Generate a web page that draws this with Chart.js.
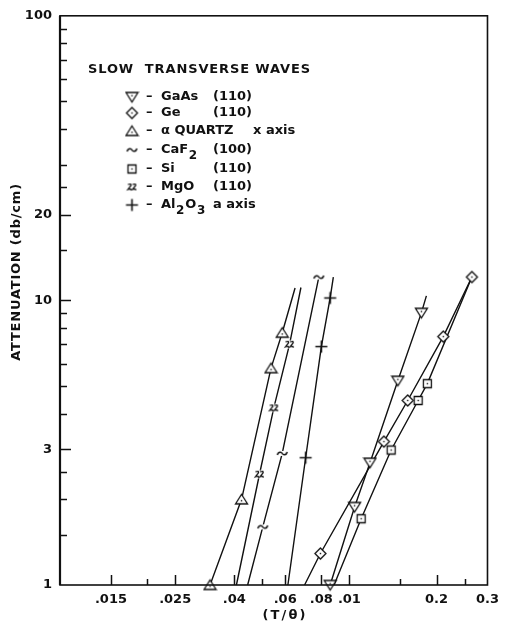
<!DOCTYPE html>
<html>
<head>
<meta charset="utf-8">
<script src="https://cdn.jsdelivr.net/npm/chart.js@4.4.0/dist/chart.umd.min.js"></script>
<style>
  html, body { margin: 0; padding: 0; background: #fff; }
</style>
</head>
<body>
<canvas id="chart" width="506" height="627"></canvas>
<script>
// 読み取った値 (T/θ, ATTENUATION db/cm)
// measured: 1 = plotted point, 0 = end of the drawn curve only
const GAAS_X = [0.0858, 0.1042, 0.1178, 0.147, 0.1773, 0.1845];
const GAAS_Y = [1.0, 1.88, 2.69, 5.22, 9.04, 10.37];
const GAAS_M = [1, 1, 1, 1, 1, 0];

const GE_X = [0.070, 0.0794, 0.1316, 0.159, 0.211, 0.265];
const GE_Y = [1.0, 1.29, 3.19, 4.45, 7.46, 12.08];
const GE_M = [0, 1, 1, 1, 1, 1];

const QUARTZ_X = [0.0330, 0.0424, 0.0536, 0.0586, 0.0649];
const QUARTZ_Y = [1.0, 2.0, 5.78, 7.7, 11.06];
const QUARTZ_M = [1, 1, 1, 1, 0];

const CAF2_X = [0.0445, 0.0502, 0.0586, 0.0784];
const CAF2_Y = [1.0, 1.6, 2.9, 12.08];
const CAF2_M = [0, 1, 1, 1];

const SI_X = [0.0885, 0.1098, 0.1394, 0.1728, 0.1859, 0.265];
const SI_Y = [1.0, 1.71, 2.98, 4.45, 5.10, 12.08];
const SI_M = [0, 1, 1, 1, 1, 0];

const MGO_X = [0.0407, 0.0489, 0.0548, 0.0621, 0.068];
const MGO_Y = [1.0, 2.45, 4.19, 7.01, 11.1];
const MGO_M = [0, 1, 1, 1, 0];

const AL2O3_X = [0.0613, 0.0706, 0.080, 0.0858, 0.088];
const AL2O3_Y = [1.0, 2.8, 6.88, 10.2, 12.08];
const AL2O3_M = [0, 1, 1, 1, 0];

// 凡例
const LEGEND_TITLE = 'SLOW  TRANSVERSE WAVES';
const LEGEND_NAMES = ['GaAs', 'Ge', 'α QUARTZ', 'CaF_2', 'Si', 'MgO', 'Al_2O_3'];
const LEGEND_NOTES = ['(110)', '(110)', 'x axis', '(100)', '(110)', '(110)', 'a axis'];

// 軸
const X_LABEL_VALUES = [0.015, 0.025, 0.04, 0.06, 0.08, 0.1, 0.2, 0.3];
const X_LABEL_TEXT = ['.015', '.025', '.04', '.06', '.08', '.01', '0.2', '0.3'];
const X_MINOR = [0.02, 0.05, 0.15, 0.25];
const Y_LABEL_VALUES = [1, 3, 10, 20, 100];
const Y_LABEL_TEXT = ['1', '3', '10', '20', '100'];
const Y_MINOR = [1.5, 2, 2.5, 4, 5, 6, 7, 8, 9, 15, 25, 30, 40, 50, 60, 70, 80, 90];
const X_TITLE = '(T/θ)';
const Y_TITLE = 'ATTENUATION (db/cm)';

const INK = '#111';
const FONT = '"DejaVu Sans", "Liberation Sans", sans-serif';

// マーカー画像
function makeMarker(kind) {
    const c = document.createElement('canvas');
    c.width = 15; c.height = 15;
    const g = c.getContext('2d');
    g.strokeStyle = INK; g.fillStyle = '#fff'; g.lineWidth = 1.3;
    const dot = (x, y) => { g.fillStyle = INK; g.fillRect(x - 0.7, y - 0.7, 1.4, 1.4); };
    g.beginPath();
    if (kind === 'down') {
        g.moveTo(1.5, 3); g.lineTo(13.5, 3); g.lineTo(7.5, 12.5); g.closePath();
        g.fill(); g.stroke(); dot(7.5, 6.2);
    } else if (kind === 'up') {
        g.moveTo(7.5, 2.5); g.lineTo(13.5, 12); g.lineTo(1.5, 12); g.closePath();
        g.fill(); g.stroke(); dot(7.5, 8.8);
    } else if (kind === 'diamond') {
        g.moveTo(7.5, 2); g.lineTo(13, 7.5); g.lineTo(7.5, 13); g.lineTo(2, 7.5); g.closePath();
        g.fill(); g.stroke(); dot(7.5, 7.5);
    } else if (kind === 'square') {
        g.rect(3.5, 3.5, 8, 8);
        g.fill(); g.stroke(); dot(7.5, 7.5);
    } else if (kind === 'plus') {
        g.lineWidth = 1.6;
        g.moveTo(1.5, 7.5); g.lineTo(13.5, 7.5);
        g.moveTo(7.5, 1.5); g.lineTo(7.5, 13.5);
        g.stroke();
    } else if (kind === 'tilde') {
        g.fillRect(3, 5, 9, 5);
        g.lineWidth = 1.5;
        g.moveTo(2.5, 9);
        g.bezierCurveTo(3.5, 5.5, 6.5, 5.5, 7.5, 7.5);
        g.bezierCurveTo(8.5, 9.5, 11.5, 9.5, 12.5, 6);
        g.stroke();
    } else if (kind === 'wave2') {
        g.fillRect(3, 3.5, 9, 8);
        g.lineWidth = 1.3;
        [5.2, 9.8].forEach(cx => {
            g.moveTo(cx - 1.8, 5);
            g.quadraticCurveTo(cx + 2.2, 3.8, cx + 1.2, 6.2);
            g.lineTo(cx - 1.6, 9.8);
            g.quadraticCurveTo(cx + 0.5, 9, cx + 1.9, 10.5);
        });
        g.stroke();
    }
    return c;
}

const MARKERS = {
    down: makeMarker('down'), up: makeMarker('up'), diamond: makeMarker('diamond'),
    square: makeMarker('square'), plus: makeMarker('plus'), tilde: makeMarker('tilde'),
    wave2: makeMarker('wave2')
};

const SERIES = [
    { xs: GAAS_X, ys: GAAS_Y, ms: GAAS_M, marker: 'down' },
    { xs: GE_X, ys: GE_Y, ms: GE_M, marker: 'diamond' },
    { xs: QUARTZ_X, ys: QUARTZ_Y, ms: QUARTZ_M, marker: 'up' },
    { xs: CAF2_X, ys: CAF2_Y, ms: CAF2_M, marker: 'tilde' },
    { xs: SI_X, ys: SI_Y, ms: SI_M, marker: 'square' },
    { xs: MGO_X, ys: MGO_Y, ms: MGO_M, marker: 'wave2' },
    { xs: AL2O3_X, ys: AL2O3_Y, ms: AL2O3_M, marker: 'plus' }
];

const datasets = SERIES.map((s, i) => ({
    label: LEGEND_NAMES[i].replace(/_/g, ''),
    data: s.xs.map((x, j) => ({ x: x, y: s.ys[j] })),
    showLine: true,
    borderColor: INK,
    borderWidth: 1.4,
    pointStyle: MARKERS[s.marker],
    pointRadius: s.ms.map(m => m ? 6 : 0),
    pointHoverRadius: s.ms.map(m => m ? 6 : 0),
    clip: false,
    tension: 0
}));

// 文字間隔を合わせて描く
function fitText(ctx, text, x, y, width) {
    ctx.letterSpacing = '0px';
    const w = ctx.measureText(text).width;
    const ls = text.length > 1 ? (width - w) / (text.length - 1) : 0;
    ctx.letterSpacing = ls.toFixed(2) + 'px';
    ctx.fillText(text, x, y);
    ctx.letterSpacing = '0px';
}

function drawRich(ctx, str, x, y) {
    str.split(/(_\d)/).filter(Boolean).forEach(p => {
        if (p[0] === '_') {
            ctx.font = 'bold 12px ' + FONT;
            ctx.fillText(p.slice(1), x + 0.5, y + 6);
            x += ctx.measureText(p.slice(1)).width + 1.5;
            ctx.font = 'bold 13px ' + FONT;
        } else {
            ctx.fillText(p, x, y);
            x += ctx.measureText(p).width;
        }
    });
}

const framePlugin = {
    id: 'frame',
    afterDatasetsDraw(chart) {
        const ctx = chart.ctx;
        const a = chart.chartArea;
        const xs = chart.scales.x, ys = chart.scales.y;
        ctx.save();
        ctx.strokeStyle = INK;
        ctx.lineWidth = 1.6;
        ctx.strokeRect(a.left, a.top, a.right - a.left, a.bottom - a.top);
        ctx.lineWidth = 2.2;
        ctx.beginPath();
        ctx.moveTo(a.left, a.top); ctx.lineTo(a.left, a.bottom);
        ctx.stroke();
        ctx.lineWidth = 1.5;
        ctx.beginPath();
        // y ticks, drawn inward
        Y_LABEL_VALUES.concat(Y_MINOR).forEach(v => {
            if (v <= 1 || v >= 100) return;
            const py = Math.round(ys.getPixelForValue(v)) + 0.5;
            const len = Y_LABEL_VALUES.includes(v) ? 11 : 7;
            ctx.moveTo(a.left, py); ctx.lineTo(a.left + len, py);
        });
        // x ticks, drawn upward
        X_LABEL_VALUES.concat(X_MINOR).forEach(v => {
            if (v >= 0.3) return;
            const px = Math.round(xs.getPixelForValue(v)) + 0.5;
            const len = X_LABEL_VALUES.includes(v) ? 10 : 6;
            ctx.moveTo(px, a.bottom); ctx.lineTo(px, a.bottom - len);
        });
        ctx.stroke();
        ctx.restore();
    },
    afterDraw(chart) {
        const ctx = chart.ctx;
        ctx.save();
        ctx.fillStyle = INK;
        ctx.textBaseline = 'middle';
        ctx.textAlign = 'left';
        ctx.font = 'bold 13px ' + FONT;
        fitText(ctx, LEGEND_TITLE, 88, 70, 222);

        const rowY = [97, 113, 131, 150, 169, 187, 205];
        SERIES.forEach((s, i) => {
            const y = rowY[i];
            const m = MARKERS[s.marker];
            ctx.drawImage(m, 132 - m.width / 2, y - m.height / 2);
            ctx.font = 'bold 13px ' + FONT;
            ctx.fillText('–', 146, y);
            drawRich(ctx, LEGEND_NAMES[i], 161, y);
            ctx.font = 'bold 13px ' + FONT;
            ctx.fillText(LEGEND_NOTES[i], i === 2 ? 253 : 213, y);
        });

        // axis titles
        ctx.textAlign = 'center';
        ctx.font = 'bold 13px ' + FONT;
        fitText(ctx, X_TITLE, 285, 616, 43);
        ctx.translate(17, 272);
        ctx.rotate(-Math.PI / 2);
        fitText(ctx, Y_TITLE, 0, 0, 177);
        ctx.restore();
    }
};

const chart = new Chart(document.getElementById('chart'), {
    type: 'scatter',
    data: { datasets: datasets },
    options: {
        responsive: false,
        animation: false,
        events: [],
        layout: { padding: { top: 9, right: 13, left: 0, bottom: 0 } },
        plugins: { legend: { display: false }, tooltip: { enabled: false } },
        scales: {
            x: {
                type: 'logarithmic',
                min: 0.01,
                max: 0.3,
                grid: { display: false, drawTicks: false },
                border: { display: false },
                afterBuildTicks: s => { s.ticks = X_LABEL_VALUES.map(v => ({ value: v })); },
                afterFit: s => { s.height = 42; },
                ticks: {
                    autoSkip: false,
                    maxRotation: 0,
                    padding: 7,
                    color: INK,
                    font: { family: FONT, size: 13, weight: 'bold' },
                    callback: v => {
                        const i = X_LABEL_VALUES.indexOf(v);
                        return i >= 0 ? X_LABEL_TEXT[i] : '';
                    }
                }
            },
            y: {
                type: 'logarithmic',
                min: 1,
                max: 100,
                grid: { display: false, drawTicks: false },
                border: { display: false },
                afterBuildTicks: s => { s.ticks = Y_LABEL_VALUES.map(v => ({ value: v })); },
                afterFit: s => { s.width = 60; },
                ticks: {
                    autoSkip: false,
                    padding: 8,
                    color: INK,
                    font: { family: FONT, size: 13, weight: 'bold' },
                    callback: v => {
                        const i = Y_LABEL_VALUES.indexOf(v);
                        return i >= 0 ? Y_LABEL_TEXT[i] : '';
                    }
                }
            }
        }
    },
    plugins: [framePlugin]
});
</script>
</body>
</html>
